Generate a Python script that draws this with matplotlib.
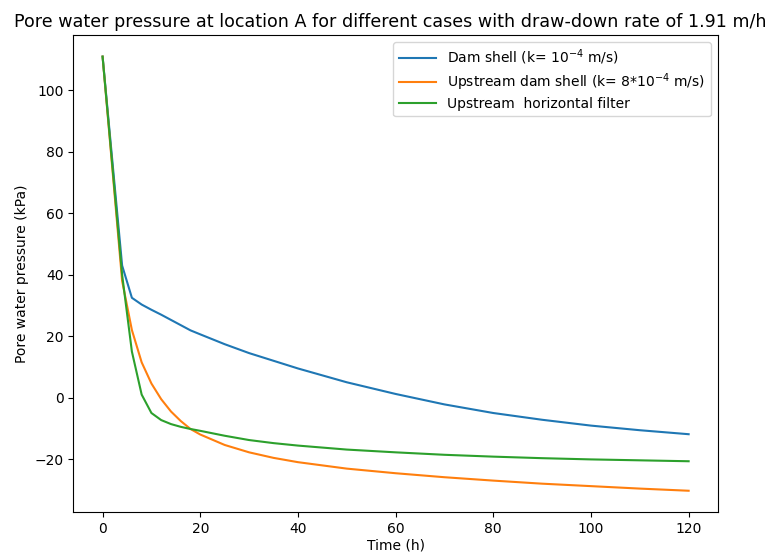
import numpy as np
import matplotlib
matplotlib.use("Agg")
import matplotlib.pyplot as plt

# time in hours
time_h = [0, 4, 6, 8, 10, 12, 14, 16, 18, 20, 25, 30, 35, 40,
          50, 60, 70, 80, 90, 100, 110, 120]

# pore water pressure (kPa)
dam_shell = [111, 43, 32.5, 30.3, 28.6, 27.0, 25.3, 23.6, 21.9, 20.6, 17.4, 14.5,
             12.0, 9.5, 5.0, 1.2, -2.2, -5.0, -7.2, -9.1, -10.6, -11.9]
upstream_shell = [111, 38, 22, 11.5, 4.6, -0.5, -4.5, -7.6, -10.2, -12.0, -15.4, -17.8,
                  -19.6, -21.0, -23.1, -24.6, -25.9, -27.0, -28.0, -28.8, -29.6, -30.3]
horizontal_filter = [111, 40, 15, 1.0, -5.0, -7.3, -8.6, -9.5, -10.2, -10.8, -12.4, -13.8,
                     -14.8, -15.6, -16.9, -17.8, -18.6, -19.2, -19.7, -20.1, -20.4, -20.7]

labels = [
    r"Dam shell (k= $10^{-4}$ m/s)",
    r"Upstream dam shell (k= 8*$10^{-4}$ m/s)",
    "Upstream  horizontal filter",
]

fig = plt.figure(figsize=(7.69, 5.54), dpi=100)
ax = fig.add_axes([0.0953, 0.075, 0.8383, 0.862])

ax.plot(time_h, dam_shell, label=labels[0])
ax.plot(time_h, upstream_shell, label=labels[1])
ax.plot(time_h, horizontal_filter, label=labels[2])

ax.set_title("Pore water pressure at location A for different cases with draw-down rate of 1.91 m/h",
             fontsize=12.6, x=0.492)
ax.set_xlabel("Time (h)", labelpad=2)
ax.set_ylabel("Pore water pressure (kPa)")
ax.legend(loc="upper right", handlelength=2.7, labelspacing=0.3)

fig.savefig("out.png", dpi=100)
